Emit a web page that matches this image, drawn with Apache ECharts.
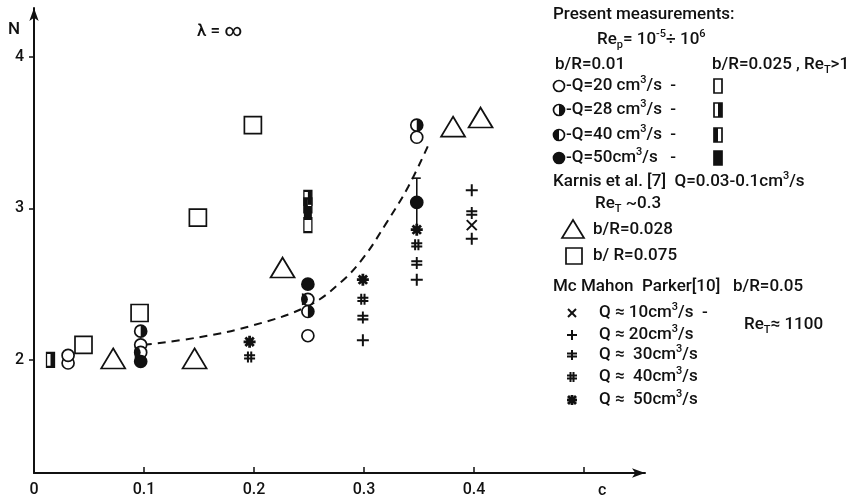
<!DOCTYPE html>
<html>
<head>
<meta charset="utf-8">
<script src="https://cdn.jsdelivr.net/npm/echarts@6/dist/echarts.min.js"></script>
<style>
html, body { margin: 0; background: #fff; }
#main { width: 851px; height: 503px; }
</style>
</head>
<body>
<div id="main"></div>
<script>
// ---- data: [c, N] ----
// present measurements, b/R = 0.01 (circles)
const circleQ20 = [[0.031, 1.98], [0.031, 2.03], [0.097, 2.10], [0.249, 2.16], [0.348, 3.47]]
const circleQ28 = [[0.097, 2.19], [0.249, 2.32], [0.348, 3.55]]
const circleQ40 = [[0.097, 2.05], [0.249, 2.40]]
const circleQ50 = [[0.097, 1.99], [0.249, 2.50], [0.348, 3.04]]
// present measurements, b/R = 0.025 (narrow bars)
const rectQ20 = [[0.249, 2.89]]
const rectQ28 = [[0.015, 2.00], [0.249, 3.07]]
const rectQ40 = [[0.249, 3.02]]
const rectQ50 = [[0.249, 2.97]]
// error bar on the c = 0.35 point: [c, low, high]
const errBar = [[0.348, 2.87, 3.20]]
// Karnis et al. [7]
const karnisTri = [[0.072, 2.01], [0.146, 2.01], [0.226, 2.61], [0.381, 3.54], [0.406, 3.60]]
const karnisSq = [[0.045, 2.10], [0.096, 2.31], [0.149, 2.94], [0.199, 3.55]]
// McMahon, Parker [10]
const mmQ10 = [[0.398, 2.89]]
const mmQ20 = [[0.299, 2.13], [0.348, 2.53], [0.398, 2.80], [0.398, 3.12]]
const mmQ30 = [[0.299, 2.28], [0.348, 2.64], [0.398, 2.97]]
const mmQ40 = [[0.196, 2.02], [0.299, 2.40], [0.348, 2.76]]
const mmQ50 = [[0.196, 2.12], [0.299, 2.53], [0.348, 2.86]]
// dashed trend line
const fitC = [0.10, 0.15, 0.20, 0.25, 0.28, 0.30, 0.32, 0.34, 0.358]
const fitN = [2.10, 2.15, 2.23, 2.36, 2.52, 2.68, 2.90, 3.14, 3.41]
// axes
const xLabels = [0, 0.1, 0.2, 0.3, 0.4]
const xTicks = [0.1, 0.2, 0.3, 0.4, 0.5]
const yTicks = [2, 3, 4]

const ink = '#111'
const FONT = 'Roboto'
const WEIGHT = 500

const HALF_DISC = 'path://M0,0A10,10 0 0 1 0,20Z'
const P_X = 'path://M0,0L10,10M10,0L0,10'
const P_PLUS = 'path://M5,0L5,10M0,5L10,5'
const P_DPLUS = 'path://M5,0L5,10M0,3.5L10,3.5M0,6.5L10,6.5'
const P_HASH = 'path://M3.5,0L3.5,10M6.5,0L6.5,10M0,3.5L10,3.5M0,6.5L10,6.5'
const P_STAR = 'path://M5,0L5,10M0,5L10,5M1.5,1.5L8.5,8.5M8.5,1.5L1.5,8.5'

function pts(data, symbol, size, extra) {
  return Object.assign({
    type: 'scatter', data: data, symbol: symbol, symbolSize: size,
    itemStyle: {color: '#fff', borderColor: ink, borderWidth: 1.7, opacity: 1},
    z: 3
  }, extra || {})
}
function solid(data, symbol, size, offset) {
  return pts(data, symbol, size, {
    symbolOffset: offset || [0, 0],
    itemStyle: {color: ink, borderWidth: 0, opacity: 1}, z: 4
  })
}
function cross(data, path, size, w) {
  return pts(data, path, size, {
    itemStyle: {color: 'transparent', borderColor: ink, borderWidth: w || 2, opacity: 1}
  })
}

const pairs = fitC.map((c, i) => [c, fitN[i]])

// ---- legend drawn as text + shapes ----
const rich = {
  sup: {fontSize: 11, fontFamily: FONT, fontWeight: WEIGHT, verticalAlign: 'top', lineHeight: 12, fill: ink},
  sub: {fontSize: 11, fontFamily: FONT, fontWeight: WEIGHT, verticalAlign: 'bottom', lineHeight: 12, fill: ink}
}
function txt(x, y, text, size) {
  return {type: 'text', x: x, y: y, style: {
    text: text, fontSize: size || 17, fontFamily: FONT, fontWeight: WEIGHT, fill: ink,
    verticalAlign: 'middle', lineHeight: 22, rich: rich
  }}
}
function lcircle(cx, cy, kind) {
  const out = [{type: 'circle', shape: {cx: cx, cy: cy, r: 5.5}, style: {fill: kind === 'full' ? ink : '#fff', stroke: ink, lineWidth: 1.7}}]
  if (kind === 'right' || kind === 'left') {
    out.push({type: 'sector', shape: {cx: cx, cy: cy, r: 5.5,
      startAngle: kind === 'right' ? -Math.PI / 2 : Math.PI / 2,
      endAngle: kind === 'right' ? Math.PI / 2 : Math.PI * 1.5}, style: {fill: ink}})
  }
  return out
}
function lrect(cx, cy, kind) {
  const out = [{type: 'rect', shape: {x: cx - 4, y: cy - 7, width: 8, height: 14}, style: {fill: kind === 'full' ? ink : '#fff', stroke: ink, lineWidth: 1.7}}]
  if (kind === 'right') out.push({type: 'rect', shape: {x: cx, y: cy - 7, width: 4, height: 14}, style: {fill: ink}})
  if (kind === 'left') out.push({type: 'rect', shape: {x: cx - 4, y: cy - 7, width: 4, height: 14}, style: {fill: ink}})
  return out
}
function lpath(cx, cy, segs, w) {
  return segs.map(s => ({type: 'line', shape: {x1: cx + s[0], y1: cy + s[1], x2: cx + s[2], y2: cy + s[3]}, style: {stroke: ink, lineWidth: w || 2}}))
}

const legendItems = [].concat(
  txt(553, 15, 'Present measurements:'),
  txt(597, 40, 'Re{sub|p}= 10{sup|-5}÷ 10{sup|6}'),
  txt(555, 65, 'b/R=0.01'),
  txt(712, 65, 'b/R=0.025 , Re{sub|T}>1'),
  lcircle(559, 86, 'open'), txt(566, 86, '-Q=20 cm{sup|3}/s  -'), lrect(718, 86, 'open'),
  lcircle(559, 110, 'right'), txt(566, 110, '-Q=28 cm{sup|3}/s  -'), lrect(718, 110, 'right'),
  lcircle(559, 135, 'left'), txt(566, 135, '-Q=40 cm{sup|3}/s  -'), lrect(718, 135, 'left'),
  lcircle(559, 158, 'full'), txt(566, 158, '-Q=50cm{sup|3}/s   -'), lrect(718, 158, 'full'),
  txt(553, 182, 'Karnis et al. [7]  Q=0.03-0.1cm{sup|3}/s'),
  txt(595, 204, 'Re{sub|T} ~0.3'),
  {type: 'polygon', shape: {points: [[573, 220], [562, 238], [584, 238]]}, style: {fill: 'none', stroke: ink, lineWidth: 1.7}},
  txt(593, 230, 'b/R=0.028'),
  {type: 'rect', shape: {x: 566, y: 248, width: 16, height: 16}, style: {fill: 'none', stroke: ink, lineWidth: 1.7}},
  txt(593, 256, 'b/ R=0.075'),
  txt(553, 287, 'Mc Mahon  Parker[10]   b/R=0.05'),
  lpath(572, 313, [[-4, -4, 4, 4], [4, -4, -4, 4]]), txt(599, 313, 'Q ≈ 10cm{sup|3}/s  -'),
  lpath(572, 335, [[0, -5, 0, 5], [-5, 0, 5, 0]]), txt(599, 335, 'Q ≈ 20cm{sup|3}/s'),
  lpath(572, 355, [[0, -5, 0, 5], [-5, -1.5, 5, -1.5], [-5, 1.5, 5, 1.5]]), txt(599, 355, 'Q ≈  30cm{sup|3}/s'),
  lpath(572, 377, [[-1.5, -5, -1.5, 5], [1.5, -5, 1.5, 5], [-5, -1.5, 5, -1.5], [-5, 1.5, 5, 1.5]]), txt(599, 377, 'Q ≈  40cm{sup|3}/s'),
  lpath(572, 400, [[0, -5, 0, 5], [-5, 0, 5, 0], [-4, -4, 4, 4], [4, -4, -4, 4]], 2.8), txt(599, 400, 'Q ≈  50cm{sup|3}/s'),
  txt(744, 325, 'Re{sub|T}≈ 1100'),
  txt(197, 32, 'λ = ∞'),
  txt(8, 30, 'N'),
  txt(598, 491, 'c', 16)
)

const chart = echarts.init(document.getElementById('main'))
chart.setOption({
  animation: false,
  backgroundColor: '#fff',
  grid: {left: 34, right: 206, top: 8, bottom: 30},
  xAxis: {
    type: 'value', min: 0, max: 0.5555,
    axisLine: {lineStyle: {color: ink, width: 2}, symbol: ['none', 'arrow'], symbolSize: [7, 13]},
    axisTick: {inside: true, length: 6, lineStyle: {color: ink, width: 1.5}, customValues: xTicks},
    axisLabel: {customValues: xLabels, color: ink, fontSize: 16, fontFamily: FONT, fontWeight: WEIGHT, margin: 9},
    splitLine: {show: false}
  },
  yAxis: {
    type: 'value', min: 1.254, max: 4.323,
    axisLine: {lineStyle: {color: ink, width: 2}, symbol: ['none', 'arrow'], symbolSize: [7, 13]},
    axisTick: {length: 5, lineStyle: {color: ink, width: 1.5}, customValues: yTicks},
    axisLabel: {customValues: yTicks, color: ink, fontSize: 16, fontFamily: FONT, fontWeight: WEIGHT, margin: 10},
    splitLine: {show: false}
  },
  graphic: legendItems,
  series: [
    {type: 'line', data: pairs, smooth: 0.4, symbol: 'none',
      lineStyle: {color: ink, width: 2, type: [8, 6]}, z: 2},
    {type: 'custom', data: errBar, encode: {x: 0, y: [1, 2]}, z: 2,
      renderItem: function (params, api) {
        const lo = api.coord([api.value(0), api.value(1)])
        const hi = api.coord([api.value(0), api.value(2)])
        return {type: 'group', children: [
          {type: 'line', shape: {x1: lo[0], y1: lo[1], x2: hi[0], y2: hi[1]}, style: {stroke: ink, lineWidth: 1.6}},
          {type: 'line', shape: {x1: hi[0] - 5, y1: hi[1], x2: hi[0] + 4, y2: hi[1]}, style: {stroke: ink, lineWidth: 1.6}}
        ]}
      }},
    pts(karnisTri, 'triangle', [24, 20]),
    pts(karnisSq, 'rect', [17, 17]),
    pts(rectQ20, 'rect', [8, 14]),
    pts(rectQ28, 'rect', [8, 14]), solid(rectQ28, 'rect', [4, 14], [2, 0]),
    pts(rectQ40, 'rect', [8, 14]), solid(rectQ40, 'rect', [4, 14], [-2, 0]),
    solid(rectQ50, 'rect', [8, 14]),
    pts(circleQ20, 'circle', 12),
    pts(circleQ28, 'circle', 12), solid(circleQ28, HALF_DISC, [6, 12], [3, 0]),
    pts(circleQ40, 'circle', 12), solid(circleQ40, HALF_DISC, [6, 12], [-3, 0]),
    pts(circleQ50, 'circle', 12, {itemStyle: {color: ink, borderColor: ink, borderWidth: 1.7, opacity: 1}}),
    cross(mmQ10, P_X, [10, 10]),
    cross(mmQ20, P_PLUS, [12, 12]),
    cross(mmQ30, P_DPLUS, [11, 12]),
    cross(mmQ40, P_HASH, [11, 11]),
    cross(mmQ50, P_STAR, [12, 12], 2.8)
  ]
})
</script>
</body>
</html>
